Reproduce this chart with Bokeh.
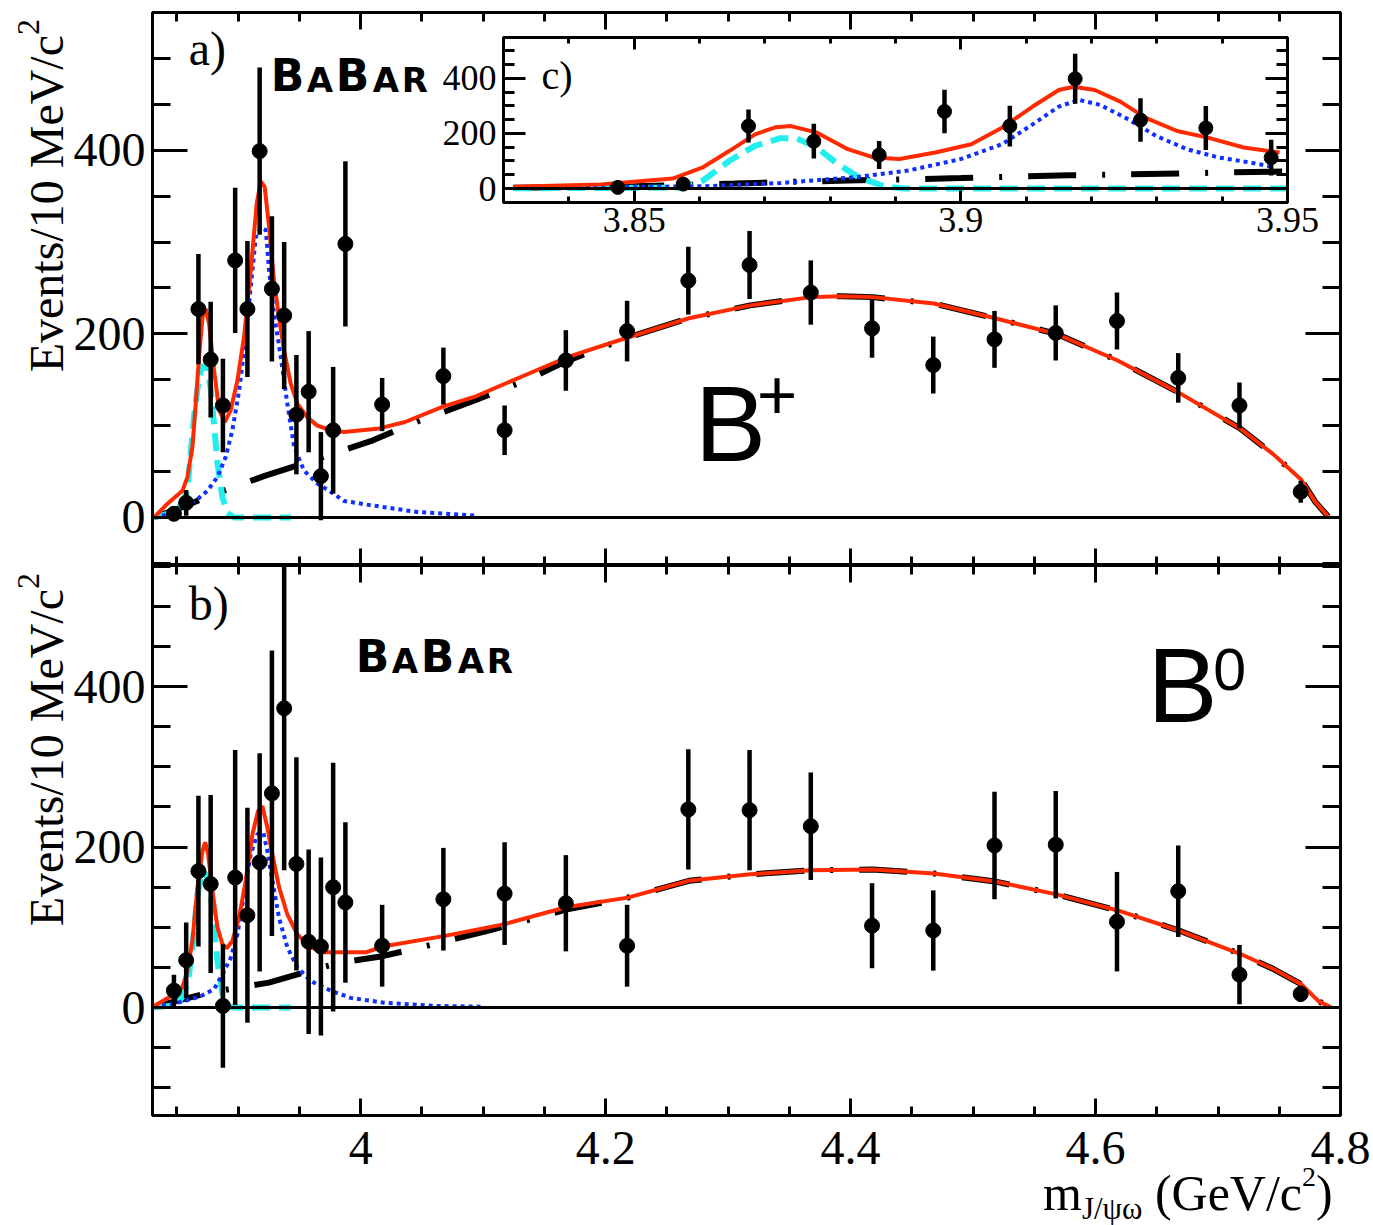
import math
from bokeh.plotting import figure
from bokeh.layouts import column
from bokeh.models import (Range1d, LinearAxis, FixedTicker, Label, Span, ColumnDataSource,
                          PrintfTickFormatter, Div)
from bokeh.embed import file_html
from bokeh.resources import INLINE

# ---------------- data ----------------
mass = [3.8475, 3.8575, 3.8675, 3.8775, 3.8875, 3.8975, 3.9075, 3.9175, 3.9275, 3.9375,
        3.9475, 3.9575, 3.9675, 3.9775, 3.9875,
        4.0175, 4.0675, 4.1175, 4.1675, 4.2175, 4.2675, 4.3175, 4.3675, 4.4175, 4.4675,
        4.5175, 4.5675, 4.6175, 4.6675, 4.7175, 4.7675]

bplus_events = [4, 16, 227, 172, 122, 280, 227, 399, 249, 220, 112, 137, 45, 95, 298,
                123, 154, 95, 171, 203, 258, 275, 245, 206, 166, 194, 201, 214, 152, 122, 28]
bplus_errors = [3, 14, 60, 63, 51, 79, 74, 91, 79, 80, 65, 66, 48, 69, 90,
                29, 31, 27, 33, 33, 37, 37, 35, 32, 31, 31, 30, 31, 27, 25, 12]

bzero_events = [21, 59, 170, 154, 2, 162, 115, 181, 267, 373, 179, 82, 76, 150, 131,
                77, 135, 142, 130, 77, 247, 246, 226, 102, 96, 202, 203, 107, 145, 41, 17]
bzero_errors = [20, 47, 94, 111, 77, 159, 134, 136, 178, 202, 133, 115, 111, 155, 100,
                51, 64, 64, 60, 51, 75, 75, 67, 53, 50, 67, 67, 62, 57, 37, 10]

# panel a) fit curves
a_total_x = [3.8313, 3.8422, 3.8544, 3.8585, 3.8626, 3.8653, 3.868, 3.8708, 3.8735, 3.8762,
             3.8803, 3.8844, 3.889, 3.8939, 3.8993, 3.9048, 3.9102, 3.9151, 3.9184, 3.9216,
             3.9252, 3.9292, 3.9333, 3.9374, 3.9428, 3.9483, 3.9564, 3.9646, 3.9755, 3.9864,
             4.0152, 4.0362, 4.0677, 4.094, 4.136, 4.1675, 4.218, 4.268, 4.318, 4.368,
             4.393, 4.418, 4.468, 4.518, 4.568, 4.618, 4.668, 4.718, 4.745, 4.768, 4.7794, 4.7899]
a_total_y = [0, 15, 29, 44, 77, 124, 175, 218, 227, 211,
             160, 117, 104, 117, 149, 197, 269, 342, 366, 360,
             316, 258, 218, 182, 146, 124, 109, 100, 95, 93,
             97, 104, 121, 132, 156, 174, 196, 217, 231, 240,
             241, 240, 233, 217, 200, 171, 136, 97, 69, 41, 17, 1]

a_x3872_x = [3.8313, 3.8422, 3.8544, 3.8585, 3.8612, 3.8639, 3.8667, 3.8694, 3.8721, 3.8748,
             3.8776, 3.8803, 3.883, 3.8871, 3.8912, 3.8966, 3.943]
a_x3872_y = [0, 4, 15, 30, 70, 110, 140, 160, 166, 162, 140, 100, 60, 22, 5, 0, 0]

a_x3915_x = [3.8313, 3.8449, 3.8558, 3.8667, 3.8748, 3.883, 3.8898, 3.8952, 3.9007, 3.9061,
             3.9102, 3.9143, 3.9184, 3.9225, 3.9252, 3.9292, 3.9347, 3.9401, 3.9456, 3.9537,
             3.9646, 3.9755, 3.9864, 4.005, 4.046, 4.095]
a_x3915_y = [0, 4, 11, 20, 29, 44, 66, 95, 138, 196, 251, 305, 316, 313, 269, 222, 175, 124,
             77, 51, 37, 28, 18, 14, 6, 2]

a_bkg_x = [3.8313, 3.8558, 3.8735, 3.898, 3.921, 3.9632, 3.985, 4.010, 4.049, 4.070, 4.094,
           4.136, 4.1675, 4.218, 4.268, 4.318, 4.368, 4.393, 4.418, 4.468, 4.518, 4.568,
           4.618, 4.668, 4.718, 4.745, 4.768, 4.7794, 4.7899]
a_bkg_y = [0, 12, 22, 34, 45, 63, 73, 84, 106, 116, 128, 150, 170, 196, 217, 231, 240, 241,
           240, 233, 217, 200, 171, 136, 97, 69, 41, 17, 1]

# panel b) fit curves
b_total_x = [3.8313, 3.845, 3.8544, 3.8585, 3.8626, 3.8667, 3.8708, 3.873, 3.8754, 3.879,
             3.883, 3.8871, 3.8906, 3.8952, 3.9007, 3.9061, 3.9116, 3.9162, 3.9197, 3.9238,
             3.9279, 3.9333, 3.9401, 3.9483, 3.9592, 3.9701, 3.9864, 4.0047, 4.0178, 4.0677,
             4.1176, 4.1675, 4.218, 4.268, 4.318, 4.3682, 4.418, 4.468, 4.5184, 4.5683,
             4.6181, 4.668, 4.718, 4.7453, 4.768, 4.782, 4.7925]
b_total_y = [2, 14, 25, 46, 83, 150, 195, 206, 191, 145,
             100, 79, 74, 83, 112, 158, 216, 245, 251, 224,
             191, 150, 116, 91, 75, 69, 69, 69, 76, 89,
             104, 125, 137, 158, 166, 171, 172, 167, 157, 141,
             121, 96, 67, 48, 29, 8, 0]

b_x3872_x = [3.8313, 3.85, 3.8558, 3.8599, 3.8626, 3.8667, 3.8708, 3.8735, 3.8776, 3.8803,
             3.883, 3.8871, 3.8911, 3.8966, 3.943]
b_x3872_y = [0, 3, 17, 42, 75, 141, 170, 166, 141, 100, 58, 17, 2, 0, 0]

b_x3915_x = [3.8313, 3.8449, 3.8558, 3.8694, 3.8803, 3.8871, 3.8939, 3.8993, 3.9048, 3.9102,
             3.9156, 3.9205, 3.9238, 3.9279, 3.9333, 3.9401, 3.9483, 3.9592, 3.9755, 3.9918,
             4.019, 4.0599, 4.1007]
b_x3915_y = [1, 4, 8, 14, 23, 41, 62, 91, 141, 191, 216, 218, 195, 158, 112, 75, 50, 33, 21,
             12, 6, 2, 1]

b_bkg_x = [3.8313, 3.834, 3.8776, 3.9007, 3.925, 3.966, 3.9837, 4.0178, 4.0572, 4.1045,
           4.1465, 4.1675, 4.218, 4.268, 4.318, 4.3682, 4.418, 4.468, 4.5184, 4.5683,
           4.6181, 4.668, 4.718, 4.7453, 4.768, 4.782, 4.7925]
b_bkg_y = [0, 2, 19, 25, 31, 49, 56, 64, 78, 96, 113, 122, 137, 158, 166, 171, 172, 167, 157,
           141, 121, 96, 67, 48, 29, 8, 0]

# inset c) fit curves
c_total_x = [3.8315, 3.8449, 3.8559, 3.8606, 3.8646, 3.8685, 3.8717, 3.874, 3.878, 3.8827,
             3.8866, 3.8906, 3.8961, 3.9016, 3.9063, 3.911, 3.915, 3.9173, 3.9205, 3.9244,
             3.9283, 3.9331, 3.9378, 3.9433, 3.9488]
c_total_y = [6, 15, 36, 78, 137, 197, 223, 227, 203, 143, 113, 107, 131, 161, 221, 298, 358,
             370, 358, 316, 257, 209, 185, 149, 131]

c_x3872_x = [3.8315, 3.8575, 3.8606, 3.8646, 3.8685, 3.8724, 3.8748, 3.878, 3.8811, 3.8843,
             3.8882, 3.8913, 3.95]
c_x3872_y = [1, 3, 30, 101, 155, 183, 183, 149, 90, 42, 8, 0, 0]

c_x3915_x = [3.8315, 3.8606, 3.8724, 3.8843, 3.8921, 3.9, 3.9063, 3.911, 3.915, 3.9181, 3.9213,
             3.9252, 3.9299, 3.9346, 3.9394, 3.9441, 3.948]
c_x3915_y = [2, 8, 20, 42, 66, 107, 161, 233, 298, 322, 304, 257, 191, 143, 113, 95, 78]

c_bkg_x = [3.8315, 3.85, 3.8654, 3.874, 3.8827, 3.8913, 3.9, 3.9079, 3.9165, 3.9252, 3.9339,
           3.9417, 3.95]
c_bkg_y = [3, 8, 18, 24, 29, 33, 38, 43, 48, 51, 55, 59, 62]

# ticks
x_major = [4.0, 4.2, 4.4, 4.6, 4.8]
x_major_labels = ["4", "4.2", "4.4", "4.6", "4.8"]
x_minor = [3.85, 3.9, 3.95, 4.05, 4.1, 4.15, 4.25, 4.3, 4.35, 4.45, 4.5, 4.55, 4.65, 4.7, 4.75]
y_major = [0, 200, 400]
y_major_labels = ["0", "200", "400"]
y_minor = [-100, -50, 50, 100, 150, 250, 300, 350, 450, 500, 550]
c_x_major = [3.85, 3.9, 3.95]
c_x_major_labels = ["3.85", "3.9", "3.95"]
c_x_minor = [3.84, 3.86, 3.87, 3.88, 3.89, 3.91, 3.92, 3.93, 3.94]
c_y_minor = [-50, 50, 100, 150, 250, 300, 350, 450, 500]

# ---------------- styling ----------------
SERIF = "Liberation Serif"
LOGO = "DejaVu Sans"
BIG = "Liberation Sans Narrow, Liberation Sans"
RED = "#ff2a00"
CYAN = "#22eeee"
BLUE = "#1030ff"


def make_axis(ticks, labels, minor, major_len, minor_len, show_labels, font_size="48px", standoff=8):
    ax = LinearAxis(ticker=FixedTicker(ticks=ticks, minor_ticks=minor),
                    formatter=PrintfTickFormatter(format="%g"),
                    major_label_overrides=dict(zip(ticks, labels)))
    ax.axis_line_color = "black"
    ax.axis_line_width = 3
    ax.major_tick_in = major_len
    ax.major_tick_out = 0
    ax.minor_tick_in = minor_len
    ax.minor_tick_out = 0
    ax.major_tick_line_width = 3
    ax.minor_tick_line_width = 3
    ax.major_tick_line_color = "black"
    ax.minor_tick_line_color = "black"
    if show_labels:
        ax.major_label_text_font = SERIF
        ax.major_label_text_font_size = font_size
        ax.major_label_text_color = "black"
        ax.major_label_standoff = standoff
    else:
        # tick-only axis (ROOT draws ticks on all four sides): no labels drawn
        ax.major_label_text_font_size = "0px"
        ax.major_label_text_color = None
        ax.major_label_text_alpha = 0
        ax.major_label_standoff = 0
    return ax


def base_fig(width, height, xr, yr, left, right, top, bottom):
    p = figure(width=width, height=height, x_range=Range1d(*xr), y_range=Range1d(*yr),
               x_axis_location=None, y_axis_location=None, toolbar_location=None,
               output_backend="svg", min_border_left=left, min_border_right=right,
               min_border_top=top, min_border_bottom=bottom)
    p.grid.visible = False
    p.outline_line_color = "black"
    p.outline_line_width = 3
    p.background_fill_color = "white"
    p.border_fill_color = "white"
    return p


def draw_curves(p, bx, by, cx, cy, dx, dy, tx, ty):
    p.add_layout(Span(location=0, dimension="width", line_color="black", line_width=3))
    p.line(bx, by, line_color="black", line_width=6, line_dash="48 26 3 26")
    p.line(cx, cy, line_color=CYAN, line_width=6, line_dash="18 9")
    p.line(dx, dy, line_color=BLUE, line_width=4, line_dash="4 4")
    p.line(tx, ty, line_color=RED, line_width=4)


def draw_points(p, ev, er, size=15):
    src = ColumnDataSource(dict(x=mass, y=ev,
                                lo=[v - e for v, e in zip(ev, er)],
                                hi=[v + e for v, e in zip(ev, er)]))
    p.segment(x0="x", y0="lo", x1="x", y1="hi", source=src, line_color="black", line_width=4.5)
    p.scatter("x", "y", source=src, size=size, color="black")


def txt(p, x, y, s, size, font=SERIF, style="normal"):
    p.add_layout(Label(x=x, y=y, text=s, text_font=font, text_font_size=size,
                       text_font_style=style, text_align="left", text_baseline="alphabetic",
                       text_color="black"))


def abs_div(html, left, top, width, height, extra=None):
    st = {"position": "absolute", "left": f"{left}px", "top": f"{top}px", "z-index": "20"}
    if extra:
        st.update(extra)
    return Div(text=html, width=width, height=height, styles=st)


# ---------------- panel a ----------------
pa = base_fig(1373, 565, (3.83, 4.8), (-52.3, 550), 152, 33, 12, 0)
pa.add_layout(make_axis(x_major, x_major_labels, x_minor, 17, 9, False), "below")
pa.add_layout(make_axis(x_major, x_major_labels, x_minor, 17, 9, False), "above")
pa.add_layout(make_axis(y_major, y_major_labels, y_minor, 35, 18, True, standoff=7), "left")
pa.add_layout(make_axis(y_major, y_major_labels, y_minor, 35, 18, False), "right")
draw_curves(pa, a_bkg_x, a_bkg_y, a_x3872_x, a_x3872_y, a_x3915_x, a_x3915_y, a_total_x, a_total_y)
draw_points(pa, bplus_events, bplus_errors)
txt(pa, 3.8596, 511, "a)", "48px")
txt(pa, 3.9265, 481, "B", "44px", font=LOGO, style="bold")
txt(pa, 3.9559, 477, "A", "34px", font=LOGO, style="bold")
txt(pa, 3.9796, 481, "B", "44px", font=LOGO, style="bold")
txt(pa, 4.0098, 477, "A", "34px", font=LOGO, style="bold")
txt(pa, 4.0335, 477, "R", "34px", font=LOGO, style="bold")
txt(pa, 4.27265, 102, "B", "107px", font=BIG)
txt(pa, 4.3233, 134, "+", "70px", font="Lato")

# ---------------- panel b ----------------
pb = base_fig(1373, 660, (3.83, 4.8), (-134.6, 551), 152, 33, 0, 110)
pb.add_layout(make_axis(x_major, x_major_labels, x_minor, 17, 9, True, standoff=16), "below")
pb.add_layout(make_axis(x_major, x_major_labels, x_minor, 17, 9, False), "above")
pb.add_layout(make_axis(y_major, y_major_labels, y_minor, 35, 18, True, standoff=7), "left")
pb.add_layout(make_axis(y_major, y_major_labels, y_minor, 35, 18, False), "right")
draw_curves(pb, b_bkg_x, b_bkg_y, b_x3872_x, b_x3872_y, b_x3915_x, b_x3915_y, b_total_x, b_total_y)
draw_points(pb, bzero_events, bzero_errors)
txt(pb, 3.8596, 503.4, "b)", "48px")
txt(pb, 3.9959, 437, "B", "44px", font=LOGO, style="bold")
txt(pb, 4.0253, 432, "A", "34px", font=LOGO, style="bold")
txt(pb, 4.0490, 437, "B", "44px", font=LOGO, style="bold")
txt(pb, 4.0792, 432, "A", "34px", font=LOGO, style="bold")
txt(pb, 4.1029, 432, "R", "34px", font=LOGO, style="bold")
txt(pb, 4.6424, 401, "B", "105px", font=BIG)
txt(pb, 4.6960, 421, "0", "59px", font=BIG)

# ---------------- inset c ----------------
pc = base_fig(969, 230, (3.83, 3.95), (-50.9, 549), 152, 33, 10, 55)
pc.border_fill_alpha = 0
pc.add_layout(make_axis(c_x_major, c_x_major_labels, c_x_minor, 12, 6, True, font_size="36px", standoff=5), "below")
pc.add_layout(make_axis(c_x_major, c_x_major_labels, c_x_minor, 12, 6, False), "above")
pc.add_layout(make_axis(y_major, y_major_labels, c_y_minor, 22, 11, True, font_size="36px", standoff=7), "left")
pc.add_layout(make_axis(y_major, y_major_labels, c_y_minor, 22, 11, False), "right")
draw_curves(pc, c_bkg_x, c_bkg_y, c_x3872_x, c_x3872_y, c_x3915_x, c_x3915_y, c_total_x, c_total_y)
draw_points(pc, bplus_events, bplus_errors, size=14)
txt(pc, 3.8358, 411, "c)", "40px")
pc.styles = {"position": "absolute", "left": "351px", "top": "27px", "z-index": "10"}

# ---------------- axis titles (HTML text) ----------------
serif_css = "font-family:'Liberation Serif';color:black;white-space:nowrap;"
ytitle_html = ('<div style="' + serif_css + 'text-align:right;width:400px;line-height:56px;font-size:48px">'
               'Events/10 MeV/c<span style="font-size:32px;position:relative;top:-24px">2</span></div>')
rot = {"transform": "rotate(-90deg)", "transform-origin": "top left"}
ya = abs_div(ytitle_html, 14, 414, 400, 56, rot)
yb = abs_div(ytitle_html, 14, 968, 400, 56, rot)
xtitle_html = ('<div style="' + serif_css + 'line-height:50px;font-size:50px">'
               'm<span style="font-size:31px;position:relative;top:9px">J/&psi;&omega;</span>'
               ' (GeV/c<span style="font-size:28px;position:relative;top:-24px">2</span>)</div>')
xt = abs_div(xtitle_html, 1038, 1163, 335, 62)

layout = column(pa, pb, pc, ya, yb, xt)
layout.styles = {"position": "relative"}

open("out.html", "w").write(file_html(layout, INLINE))
